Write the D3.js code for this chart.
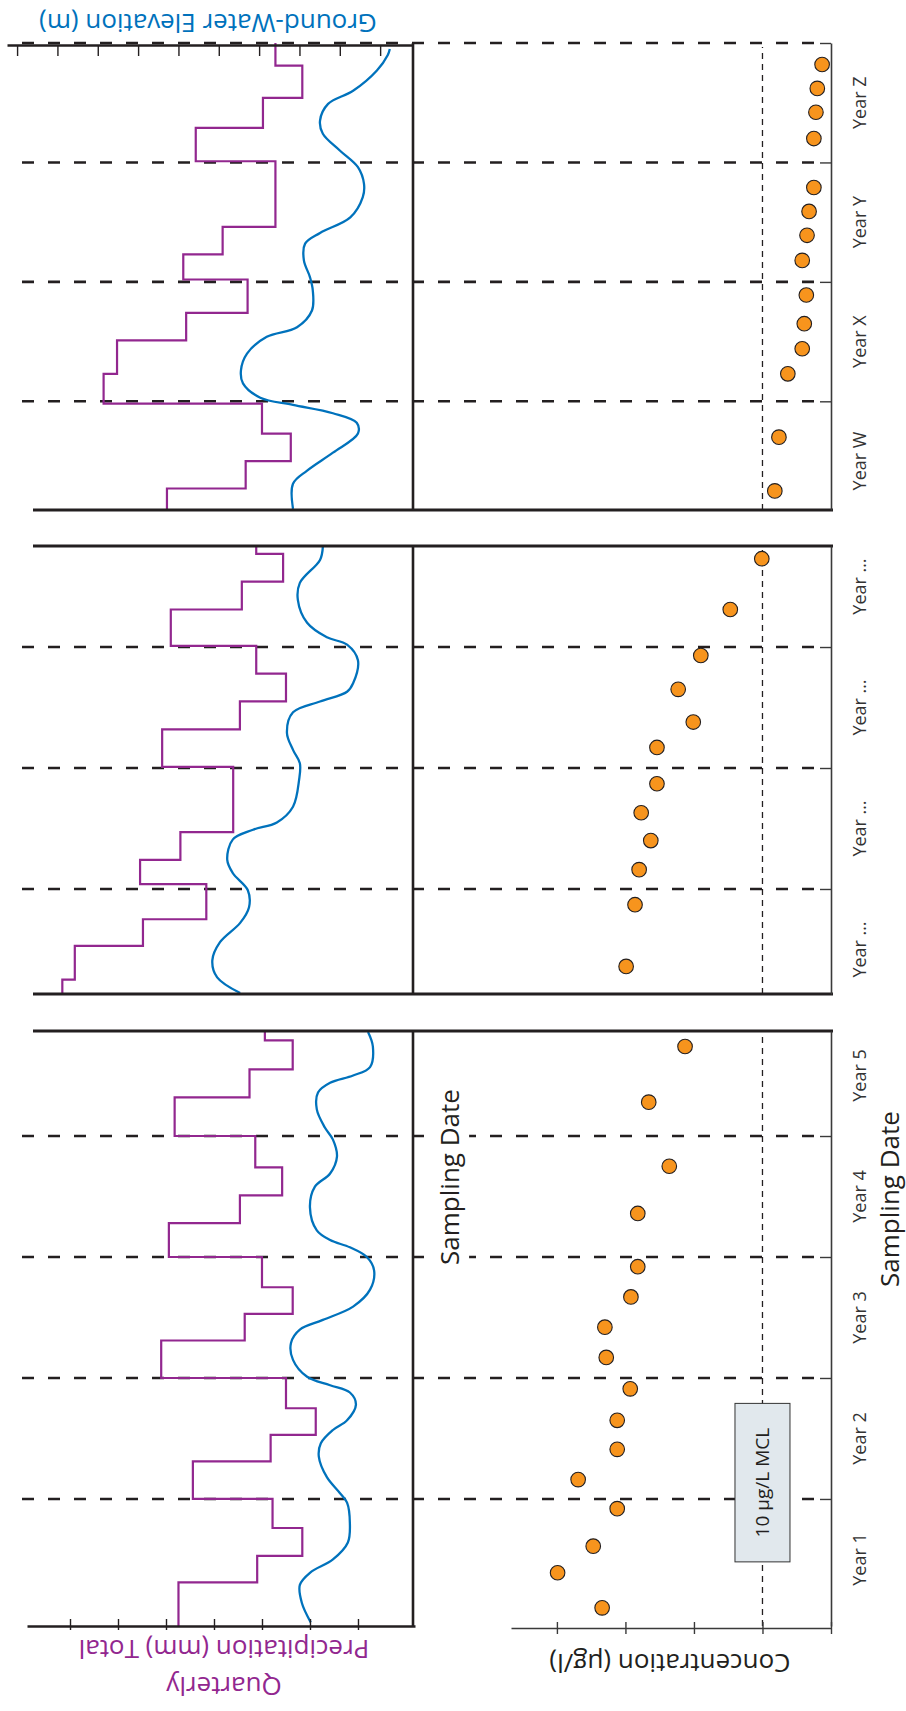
<!DOCTYPE html>
<html>
<head>
<meta charset="utf-8">
<script src="https://cdn.jsdelivr.net/npm/d3@7"></script>
<style>
  body { margin: 0; background: #fff; }
  text { font-family: "Open Sans", "Noto Sans", sans-serif; }
</style>
</head>
<body>
<script>
// time is in years from the start of each segment
const yearsA = ['Year 1', 'Year 2', 'Year 3', 'Year 4', 'Year 5'];
const yearsB = ['Year …', 'Year …', 'Year …', 'Year …'];
const yearsC = ['Year W', 'Year X', 'Year Y', 'Year Z'];

// quarterly precipitation: [step start, total mm]
const precipA = [[-0.05, 237], [0.31, 155], [0.53, 108], [0.76, 139], [1, 222], [1.31, 141], [1.53, 94], [1.75, 125],
    [2, 255], [2.31, 168], [2.53, 118], [2.75, 150], [3, 247], [3.28, 173], [3.51, 129], [3.74, 157],
    [4, 241], [4.32, 163], [4.55, 118], [4.79, 147]];
const precipB = [[0.13, 358], [0.25, 345], [0.53, 274], [0.75, 208], [1.04, 277], [1.24, 235], [1.47, 180],
    [2.01, 254], [2.32, 173], [2.55, 125], [2.78, 156], [3.01, 245], [3.31, 171], [3.54, 128], [3.77, 156]];
const precipC = [[0.09, 249], [0.27, 167], [0.5, 120], [0.73, 150], [0.98, 315], [1.23, 301], [1.51, 229], [1.74, 165],
    [2.02, 232], [2.23, 191], [2.46, 136], [3.01, 219], [3.29, 149], [3.54, 108], [3.81, 136]];

// ground-water elevation: [time, m]
const gwA = [[-0.02, 2.72], [0.14, 2.94], [0.29, 2.99], [0.39, 2.74], [0.5, 2.17], [0.64, 1.8], [0.8, 1.75], [0.97, 1.82],
    [1.05, 2.0], [1.18, 2.32], [1.35, 2.52], [1.46, 2.47], [1.57, 2.17], [1.65, 1.82], [1.78, 1.6], [1.88, 1.75],
    [1.94, 2.24], [2.01, 2.81], [2.15, 3.16], [2.29, 3.21], [2.4, 2.99], [2.48, 2.42], [2.59, 1.67], [2.73, 1.25],
    [2.89, 1.15], [3.0, 1.33], [3.08, 1.75], [3.14, 2.24], [3.22, 2.57], [3.41, 2.74], [3.58, 2.62], [3.69, 2.24],
    [3.83, 2.07], [3.97, 2.17], [4.07, 2.37], [4.22, 2.57], [4.36, 2.54], [4.44, 2.24], [4.5, 1.67], [4.57, 1.25],
    [4.74, 1.18], [4.86, 1.3]];
const gwB = [[0.14, 4.47], [0.27, 5.04], [0.41, 5.16], [0.56, 4.97], [0.72, 4.47], [0.85, 4.25], [0.99, 4.28],
    [1.13, 4.65], [1.24, 4.79], [1.41, 4.65], [1.49, 4.15], [1.55, 3.56], [1.68, 3.16], [1.9, 3.01], [2.04, 2.99],
    [2.15, 3.16], [2.29, 3.31], [2.46, 3.16], [2.55, 2.49], [2.63, 1.82], [2.7, 1.67], [2.89, 1.55], [3.02, 1.82],
    [3.08, 2.32], [3.2, 2.81], [3.39, 3.04], [3.53, 2.99], [3.72, 2.49], [3.83, 2.42]];
const gwC = [[0.1, 3.16], [0.31, 3.16], [0.42, 2.81], [0.57, 2.17], [0.73, 1.55], [0.82, 1.58], [0.9, 2.17], [0.97, 3.16],
    [1.03, 3.97], [1.15, 4.4], [1.26, 4.45], [1.4, 4.3], [1.54, 3.81], [1.62, 3.06], [1.76, 2.69], [1.93, 2.67],
    [2.04, 2.74], [2.18, 2.89], [2.32, 2.86], [2.41, 2.49], [2.54, 1.74], [2.71, 1.43], [2.82, 1.4], [2.96, 1.55],
    [3.1, 2.0], [3.24, 2.42], [3.35, 2.49], [3.49, 2.29], [3.6, 1.67], [3.77, 1.08], [3.9, 0.81], [3.95, 0.76]];

// concentration samples: [time, µg/l]
const concA = [[0.1, 33.4], [0.39, 39.9], [0.61, 34.7], [0.92, 31.2], [1.16, 36.9], [1.41, 31.2], [1.65, 31.2],
    [1.91, 29.3], [2.17, 32.8], [2.42, 33.0], [2.67, 29.2], [2.92, 28.2], [3.36, 28.2], [3.75, 23.6], [4.28, 26.6],
    [4.74, 21.3]];
const concB = [[0.36, 29.9], [0.87, 28.6], [1.16, 28.0], [1.4, 26.3], [1.63, 27.7], [1.87, 25.4], [2.17, 25.4],
    [2.38, 20.1], [2.65, 22.3], [2.93, 19.0], [3.31, 14.7], [3.73, 10.1]];
const concC = [[0.25, 8.2], [0.7, 7.6], [1.23, 6.3], [1.44, 4.2], [1.65, 3.9], [1.89, 3.6], [2.18, 4.2], [2.39, 3.5],
    [2.59, 3.2], [2.79, 2.5], [3.2, 2.5], [3.42, 2.2], [3.62, 2.0], [3.82, 1.3]];

const mcl = 10;
const precipTicks = [50, 100, 150, 200, 250, 300, 350];
const gwTicks = [1, 2, 3, 4, 5, 6, 7, 8, 9, 10];
const concTicks = [0, 10, 20, 30, 40];

const ink = '#231f20', purple = '#92278f', blue = '#0072bc', orange = '#f7941d';

const svg = d3.select('body').append('svg')
    .attr('width', 906)
    .attr('height', 1711);

let precipX = d3.scaleLinear().domain([-9.4, 394.8]).range([415, 27]),
    gwX = d3.scaleLinear().domain([0.21, 10.25]).range([412, 7]),
    concX = d3.scaleLinear().domain([0, 46.7]).range([831, 511]);

const strips = [
    { labels: yearsA, precip: precipA, gw: gwA, conc: concA, span: [-0.05, 4.868], top: 1031, bottom: 1626 },
    { labels: yearsB, precip: precipB, gw: gwB, conc: concB, span: [0.132, 3.835], top: 546, bottom: 994 },
    { labels: yearsC, precip: precipC, gw: gwC, conc: concC, span: [0.09, 4.0], top: 43, bottom: 510 }
];

let scaleA;

strips.forEach((s, i) => {
    let y = d3.scaleLinear().domain(s.span).range([s.bottom, s.top]);
    if (i === 0) scaleA = y;
    let g = svg.append('g');
    let bounds = d3.range(1, 5).filter(t => t > s.span[0] + 0.1 && t <= s.span[1] + 0.01);

    // year boundaries
    g.selectAll('.yr').data(bounds).join('line')
        .attr('x1', 22).attr('x2', 818)
        .attr('y1', d => y(d)).attr('y2', d => y(d))
        .attr('stroke', ink).attr('stroke-width', 2.6)
        .attr('stroke-dasharray', '12,14');

    // precipitation steps
    let steps = s.precip.concat([[s.span[1], s.precip[s.precip.length - 1][1]]]);
    g.append('path')
        .datum(steps)
        .attr('fill', 'none')
        .attr('stroke', purple)
        .attr('stroke-width', 2.2)
        .attr('d', d3.line().x(d => precipX(d[1])).y(d => y(d[0])).curve(d3.curveStepBefore));

    // ground-water elevation
    g.append('path')
        .datum(s.gw)
        .attr('fill', 'none')
        .attr('stroke', blue)
        .attr('stroke-width', 2.3)
        .attr('d', d3.line().x(d => gwX(d[1])).y(d => y(d[0])).curve(d3.curveCatmullRom.alpha(0.5)));

    // MCL reference
    g.append('line')
        .attr('x1', concX(mcl)).attr('x2', concX(mcl))
        .attr('y1', s.bottom).attr('y2', s.top + 4)
        .attr('stroke', ink).attr('stroke-width', 1.3)
        .attr('stroke-dasharray', '6,5');

    // frames
    g.append('line')
        .attr('x1', 413).attr('x2', 413)
        .attr('y1', s.top).attr('y2', s.bottom)
        .attr('stroke', ink).attr('stroke-width', 2.6);
    if (i > 0) {
        g.append('line').attr('x1', 33).attr('x2', 833)
            .attr('y1', s.bottom).attr('y2', s.bottom)
            .attr('stroke', ink).attr('stroke-width', 2.8);
    }
    if (i < strips.length - 1) {
        g.append('line').attr('x1', 33).attr('x2', 833)
            .attr('y1', s.top).attr('y2', s.top)
            .attr('stroke', ink).attr('stroke-width', 2.8);
    }

    // concentration samples
    g.selectAll('.pt').data(s.conc).join('circle')
        .attr('cx', d => concX(d[1]))
        .attr('cy', d => y(d[0]))
        .attr('r', 7.3)
        .attr('fill', orange)
        .attr('stroke', ink)
        .attr('stroke-width', 1.1);

    // time axis
    let ax = g.append('g')
        .attr('transform', 'translate(831,0)')
        .call(d3.axisLeft(y).tickValues(bounds).tickSize(11).tickSizeOuter(0).tickFormat(''));
    ax.select('.domain').attr('stroke', '#3a3a3a').attr('stroke-width', 1.6);
    ax.selectAll('.tick line').attr('stroke', '#3a3a3a').attr('stroke-width', 1.4);

    g.selectAll('.lab').data(s.labels).join('text')
        .attr('transform', (d, k) => 'translate(860,' + y(k + 0.5) + ') rotate(-90)')
        .attr('text-anchor', 'middle')
        .attr('dy', '0.35em')
        .attr('font-size', 18)
        .attr('fill', '#333')
        .text(d => d);
});

// precipitation axis
let pAxis = svg.append('g')
    .attr('transform', 'translate(0,1626)')
    .call(d3.axisBottom(precipX).tickValues(precipTicks).tickSize(4).tickSizeOuter(0).tickFormat(''));
pAxis.select('.domain').attr('stroke', ink).attr('stroke-width', 2.6);
pAxis.selectAll('.tick line').attr('y1', -7).attr('stroke', ink).attr('stroke-width', 1.4);

// concentration axis
let cAxis = svg.append('g')
    .attr('transform', 'translate(0,1628)')
    .call(d3.axisBottom(concX).tickValues(concTicks).tickSize(6).tickSizeOuter(0).tickFormat(''));
cAxis.select('.domain').attr('stroke', '#3a3a3a').attr('stroke-width', 1.6);
cAxis.selectAll('.tick line').attr('y1', -6).attr('stroke', '#3a3a3a').attr('stroke-width', 1.4);

// ground-water axis
let gAxis = svg.append('g')
    .attr('transform', 'translate(0,45)')
    .call(d3.axisBottom(gwX).tickValues(gwTicks).tickSize(11).tickSizeOuter(0).tickFormat(''));
gAxis.select('.domain').attr('stroke', ink).attr('stroke-width', 2.6);
gAxis.selectAll('.tick line').attr('stroke', ink).attr('stroke-width', 1.4);

// MCL label box
let boxTop = scaleA(1.79), boxBottom = scaleA(0.48);
svg.append('rect')
    .attr('x', concX(mcl) - 27.5)
    .attr('y', boxTop)
    .attr('width', 55)
    .attr('height', boxBottom - boxTop)
    .attr('fill', '#e1e8ed')
    .attr('stroke', '#333')
    .attr('stroke-width', 1);
svg.append('text')
    .attr('transform', 'translate(' + concX(mcl) + ',' + (boxTop + boxBottom) / 2 + ') rotate(-90)')
    .attr('text-anchor', 'middle')
    .attr('dy', '0.35em')
    .attr('font-size', 19)
    .attr('fill', ink)
    .text('10 µg/L MCL');

// titles
function title(txt, x, y, rot, color, knockout) {
    let t = svg.append('g')
        .attr('transform', 'translate(' + x + ',' + y + ') rotate(' + rot + ')');
    let label = t.append('text')
        .attr('text-anchor', 'middle')
        .attr('dy', '0.35em')
        .attr('font-size', 26)
        .attr('fill', color)
        .text(txt);
    if (knockout) {
        let b = label.node().getBBox();
        t.insert('rect', 'text')
            .attr('x', b.x - 2).attr('y', b.y - 1)
            .attr('width', b.width + 4).attr('height', b.height + 3)
            .attr('fill', '#fff');
    }
}
title('Quarterly', 224, 1686, 180, purple);
title('Precipitation (mm) Total', 224, 1649, 180, purple);
title('Concentration (µg/l)', 670, 1663, 180, ink);
title('Ground-Water Elevation (m)', 208, 23, 180, blue);
title('Sampling Date', 890, 1199, -90, ink);
title('Sampling Date', 450, 1177, -90, ink, true);
</script>
</body>
</html>
